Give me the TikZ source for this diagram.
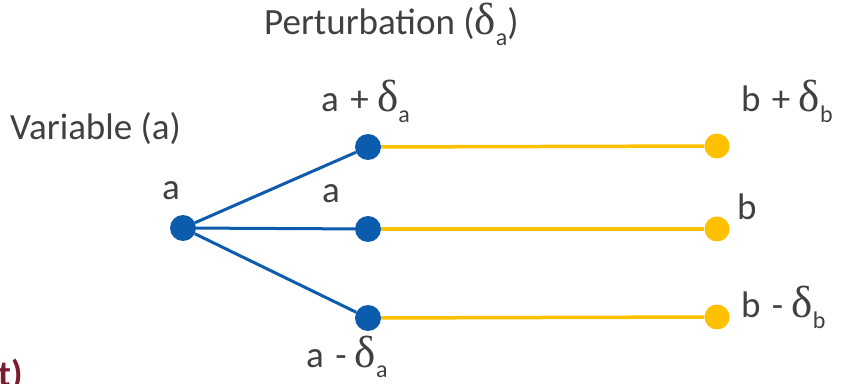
\documentclass[tikz,border=0pt]{standalone}
\usepackage{fontspec}
\setmainfont{Carlito}
\newfontfamily\grk{Liberation Serif}
\definecolor{bl}{HTML}{0B5CAD}
\definecolor{yl}{HTML}{FFC000}
\definecolor{tx}{HTML}{404040}
\definecolor{mr}{HTML}{7B1C2E}
\newcommand{\sbs}[1]{\raisebox{-0.28em}{\fontsize{24}{25}\selectfont #1}}
\newcommand{\dlt}{{\grk\fontsize{45}{46}\selectfont δ}}
\begin{document}
\begin{tikzpicture}[x=1pt,y=1pt,
  lbl/.style={text=tx,font=\fontsize{37}{40}\selectfont,inner sep=0pt,anchor=base west},
  bdot/.style={circle,fill=bl,minimum size=26pt,inner sep=0pt},
  ydot/.style={circle,fill=yl,minimum size=25pt,inner sep=0pt},
  bline/.style={draw=bl,line width=3pt},
  yline/.style={draw=yl,line width=3.5pt}]
\useasboundingbox (0,0) rectangle (849,383);
\node[bdot] (a) at (183,155) {};
\node[bdot] (at) at (368,236) {};
\node[bdot] (am) at (368,154) {};
\node[bdot] (ab) at (368,65) {};
\node[ydot] (bt) at (717,237) {};
\node[ydot] (bm) at (717,154) {};
\node[ydot] (bb) at (717,66) {};
\draw[bline] (a) -- (at);
\draw[bline] (a) -- (am);
\draw[bline] (a) -- (ab);
\draw[yline] (at) -- (bt);
\draw[yline] (am) -- (bm);
\draw[yline] (ab) -- (bb);
\node[lbl] (pert) at (264,348) {Perturbation (\dlt\sbs{a})};
\node[lbl] (var) at (10,243) {Variable (a)};
\node[lbl] (la) at (162,183) {a};
\node[lbl] (lam) at (322,180) {a};
\node[lbl] (lat) at (321,271) {a\hspace{3pt} + \dlt\sbs{a}};
\node[lbl] (lab) at (306,16) {a\hspace{3pt} - \dlt\sbs{a}};
\node[lbl] (lbt) at (741,271) {b\hspace{3pt} + \dlt\sbs{b}};
\node[lbl] (lbm) at (737,163) {b};
\node[lbl] (lbb) at (741,65) {b\hspace{3pt} - \dlt\sbs{b}};
\node[lbl,text=mr,font=\fontsize{37}{40}\selectfont\bfseries] (t) at (-2,-4) {t)};
\end{tikzpicture}
\end{document}
